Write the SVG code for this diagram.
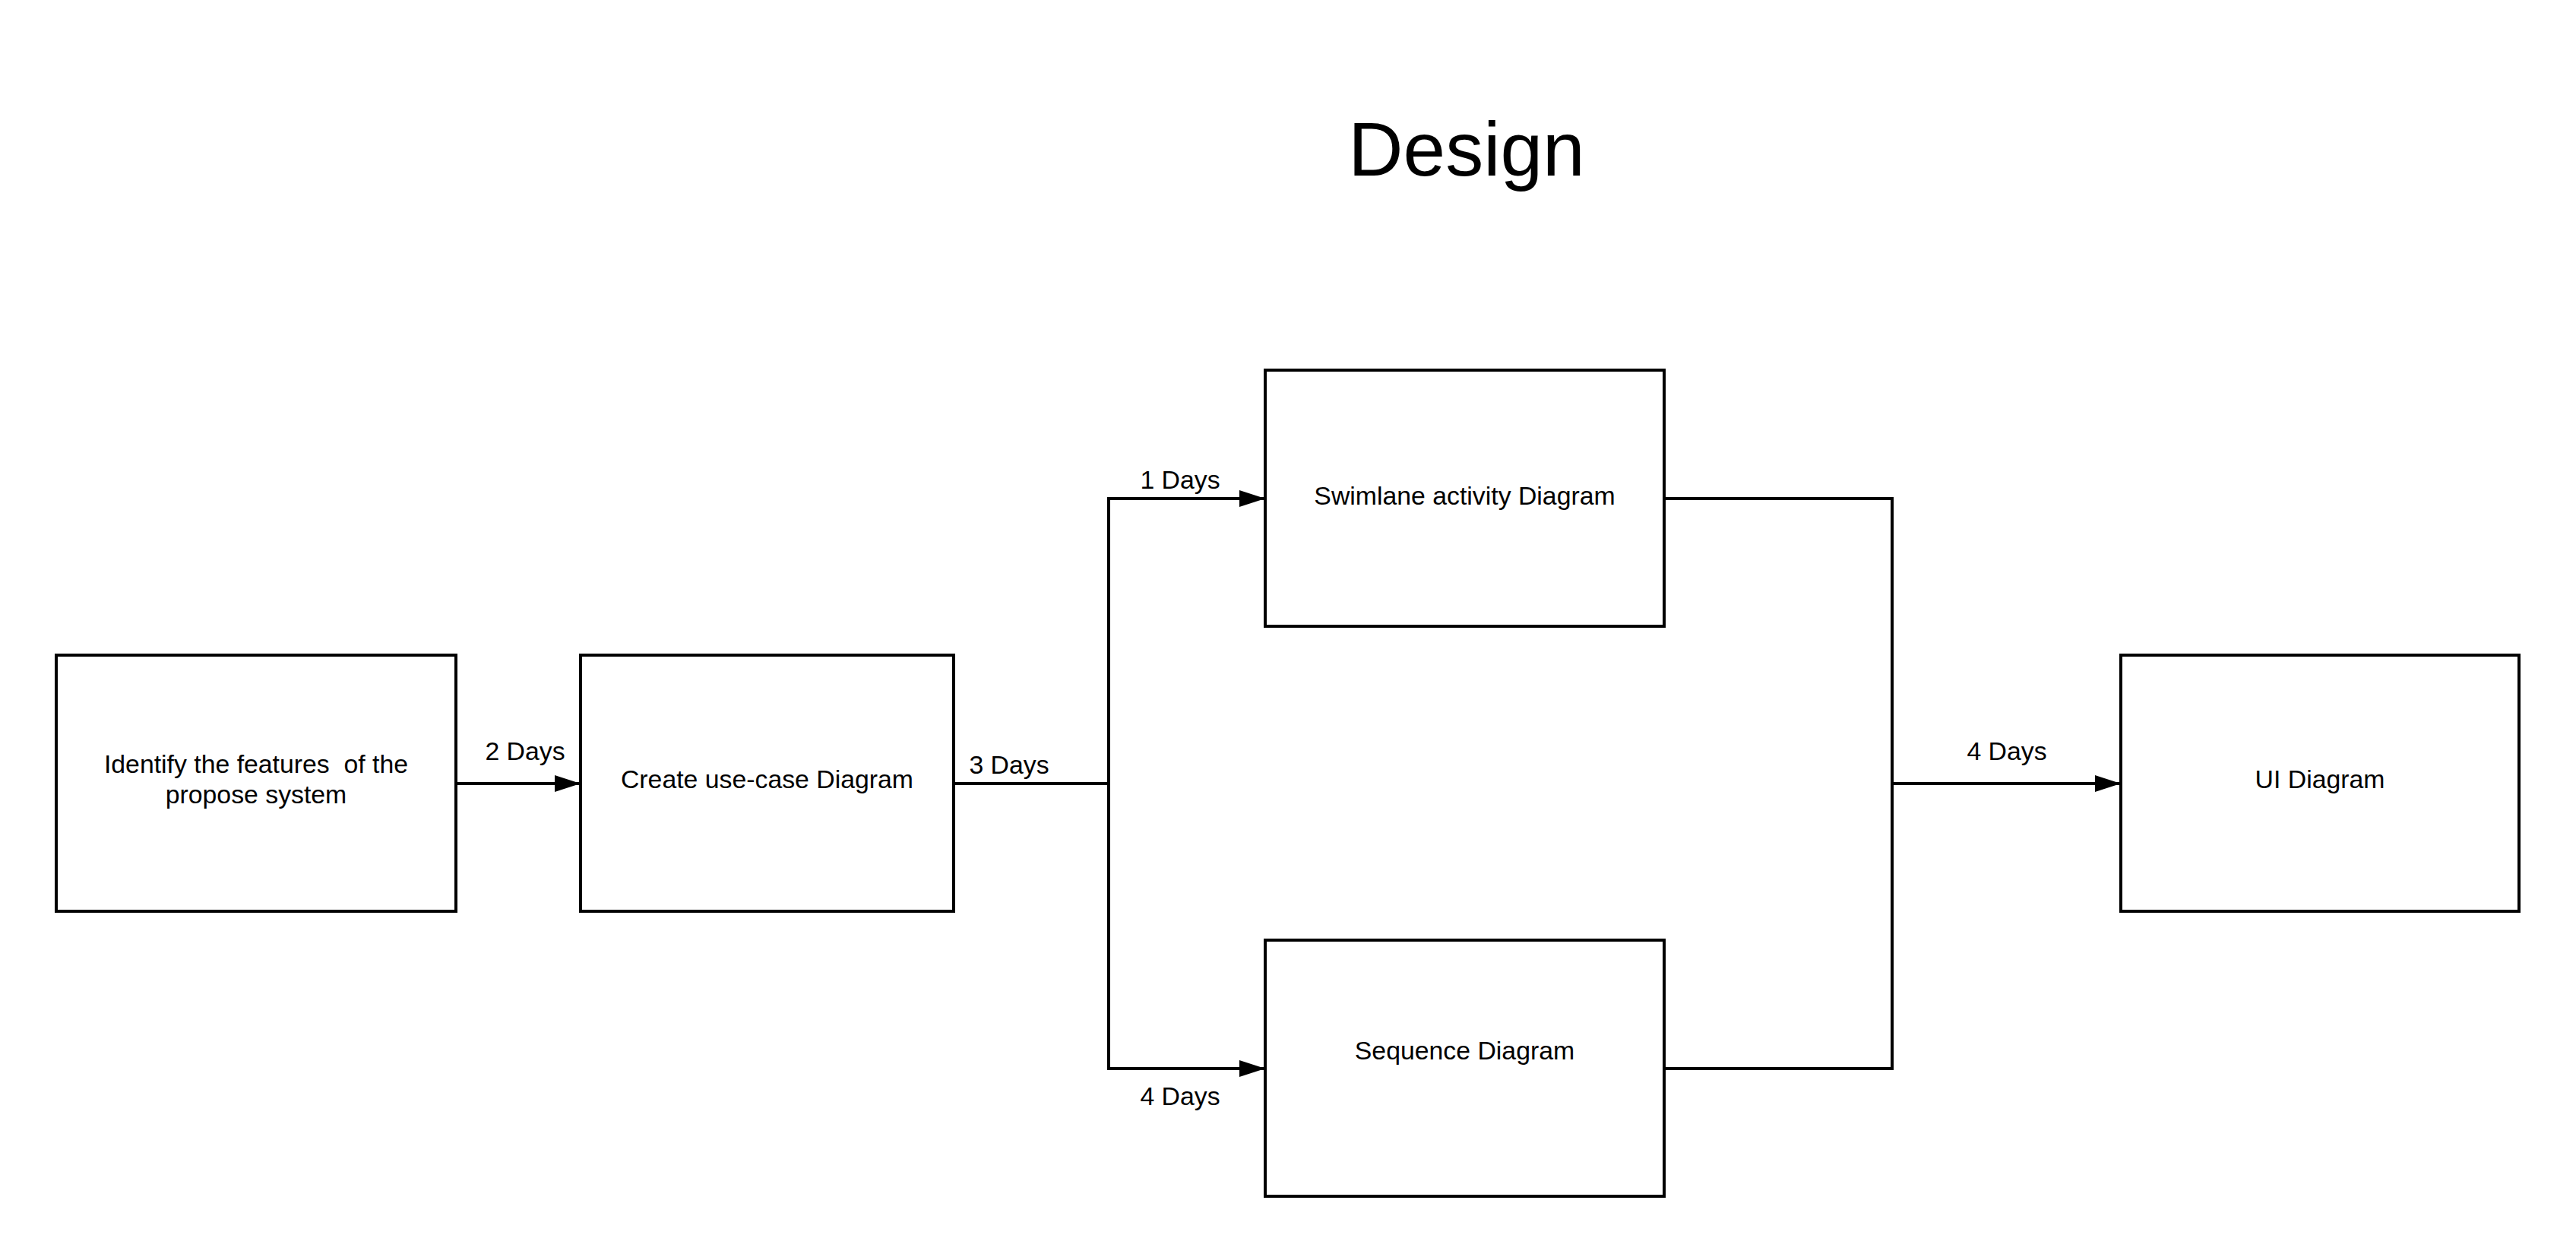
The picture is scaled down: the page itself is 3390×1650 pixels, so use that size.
<svg xmlns="http://www.w3.org/2000/svg" width="3390" height="1650" viewBox="0 0 3390 1650">
  <style>
    .box { fill: #ffffff; stroke: #000000; stroke-width: 4; }
    .lbl { font-family: "Liberation Sans", Arial, sans-serif; font-size: 33.8px; fill: #000000; text-anchor: middle; white-space: pre; }
    .title { font-family: "Liberation Sans", Arial, sans-serif; font-size: 100px; fill: #000000; text-anchor: middle; }
    .conn { fill: none; stroke: #000000; stroke-width: 4; }
  </style>
  <defs>
    <marker id="arrow" markerUnits="userSpaceOnUse" markerWidth="34" markerHeight="22" refX="34" refY="11" orient="auto">
      <path d="M0,0 L34,11 L0,22 Z" fill="#000000"/>
    </marker>
  </defs>
  <rect width="3390" height="1650" fill="#ffffff"/>
  <text class="title" x="1930" y="231">Design</text>

  <g id="connectors">
    <path class="conn" d="M600,1031 H764" marker-end="url(#arrow)"/>
    <path class="conn" d="M1255,1031 H1459 V656 H1665" marker-end="url(#arrow)"/>
    <path class="conn" d="M1459,1031 V1406 H1665" marker-end="url(#arrow)"/>
    <path class="conn" d="M2190,656 H2490 V1031 H2791" marker-end="url(#arrow)"/>
    <path class="conn" d="M2190,1406 H2490 V1031"/>
    <text class="lbl" x="691" y="1000">2 Days</text>
    <text class="lbl" x="1328" y="1018">3 Days</text>
    <text class="lbl" x="1553" y="643">1 Days</text>
    <text class="lbl" x="1553" y="1454">4 Days</text>
    <text class="lbl" x="2641" y="1000">4 Days</text>
  </g>

  <g id="node-identify">
    <rect class="box" x="74" y="862" width="526" height="337"/>
    <text class="lbl" x="337" y="1017">Identify the features  of the</text>
    <text class="lbl" x="337" y="1057">propose system</text>
  </g>
  <g id="node-usecase">
    <rect class="box" x="764" y="862" width="491" height="337"/>
    <text class="lbl" x="1009.5" y="1037">Create use-case Diagram</text>
  </g>
  <g id="node-swimlane">
    <rect class="box" x="1665" y="487" width="525" height="337"/>
    <text class="lbl" x="1927.5" y="664">Swimlane activity Diagram</text>
  </g>
  <g id="node-sequence">
    <rect class="box" x="1665" y="1237" width="525" height="337"/>
    <text class="lbl" x="1927.5" y="1394">Sequence Diagram</text>
  </g>
  <g id="node-ui">
    <rect class="box" x="2791" y="862" width="524" height="337"/>
    <text class="lbl" x="3053" y="1037">UI Diagram</text>
  </g>
</svg>
